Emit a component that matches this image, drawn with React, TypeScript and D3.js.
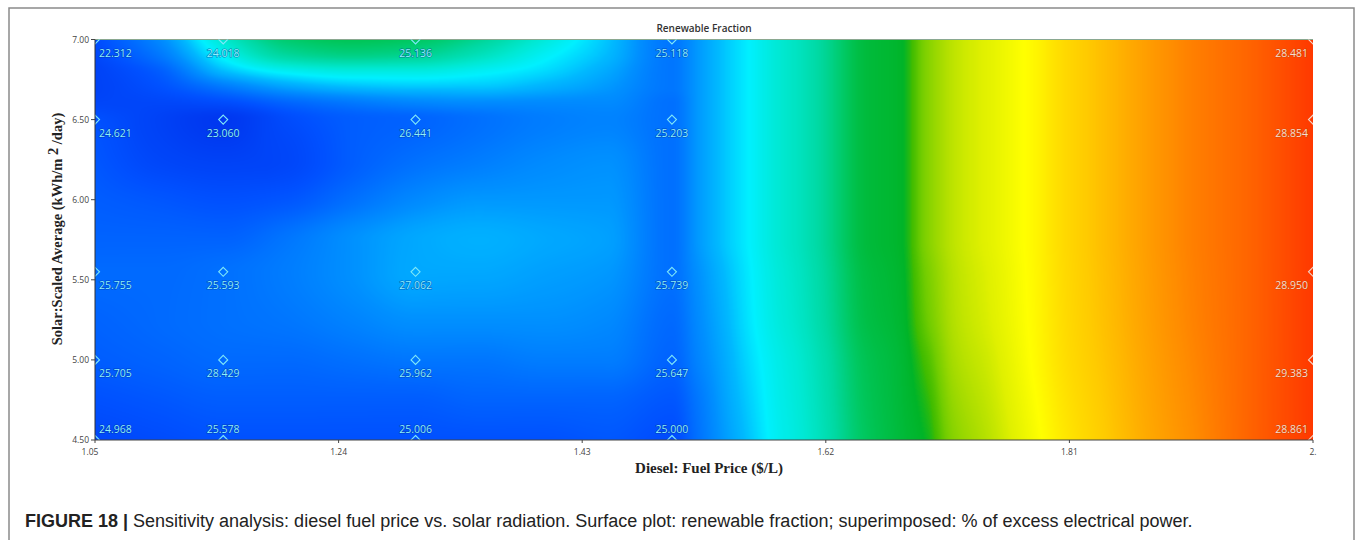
import React, { useMemo } from 'react';
import * as d3 from 'd3';

const W = 1355;
const H = 540;

// Axes
const xDomain = [1.05, 2.0];
const yDomain = [4.5, 7.0];
const xTickValues = [1.05, 1.24, 1.43, 1.62, 1.81, 2.0];
const xTickLabels = ['1.05', '1.24', '1.43', '1.62', '1.81', '2.'];
const yTickValues = [7.0, 6.5, 6.0, 5.5, 5.0, 4.5];

// Sensitivity points (superimposed: % excess electrical power)
const sensDiesel = [1.05, 1.15, 1.3, 1.5, 2.0];
const sensSolar = [7.0, 6.5, 5.55, 5.0, 4.5];
const excess700 = [22.312, 24.018, 25.136, 25.118, 28.481];
const excess650 = [24.621, 23.06, 26.441, 25.203, 28.854];
const excess555 = [25.755, 25.593, 27.062, 25.739, 28.95];
const excess500 = [25.705, 28.429, 25.962, 25.647, 29.383];
const excess450 = [24.968, 25.578, 25.006, 25.0, 28.861];
const excessRows = [excess700, excess650, excess555, excess500, excess450];

// Surface: renewable fraction (estimated, colour-scale units)
const surfDiesel = [1.05, 1.1, 1.15, 1.2, 1.25, 1.3, 1.35, 1.4, 1.45, 1.5, 1.52, 1.54, 1.56, 1.58, 1.6, 1.62, 1.65, 1.68, 1.7, 1.72, 1.75, 1.78, 1.81, 1.85, 1.9, 1.95, 2.0];
const surfSolar = [7.0, 6.9, 6.8, 6.7, 6.6, 6.5, 6.25, 6.0, 5.75, 5.55, 5.25, 5.0, 4.75, 4.5];
const rf700 = [9, 19, 35, 44, 46, 45, 41, 34, 26, 16, 21, 26, 30, 34, 37, 41, 48, 50, 57, 62, 66, 71, 78, 84, 91, 95, 100];
const rf690 = [8, 16, 31, 40, 42, 41, 37, 31, 25, 16, 21, 26, 30, 34, 37, 41, 48, 50, 57, 62, 66, 71, 78, 84, 91, 95, 100];
const rf680 = [7, 12, 25, 31, 33, 33, 31, 28, 23, 16, 21, 26, 30, 34, 37, 41, 48, 50, 57, 62, 66, 71, 78, 84, 91, 95, 100];
const rf670 = [7, 10, 16, 22, 25, 26, 26, 24, 21, 16, 21, 26, 30, 34, 37, 41, 48, 50, 57, 62, 66, 71, 78, 84, 91, 95, 100];
const rf660 = [8, 8, 9, 13, 16, 18, 19, 19, 19, 15, 21, 26, 30, 34, 37, 41, 48, 50, 57, 62, 66, 71, 78, 84, 91, 95, 100];
const rf650 = [10, 7, 5, 9, 12, 13, 15, 17, 18, 15, 21, 26, 30, 34, 37, 41, 48, 50, 57, 62, 66, 71, 78, 84, 91, 95, 100];
const rf625 = [11, 8, 7, 8, 12, 15, 17, 19, 20, 15, 21, 26, 30, 34, 37, 41, 48, 50, 57, 62, 66, 71, 78, 84, 91, 95, 100];
const rf600 = [12, 11, 10, 11, 15, 19, 21, 21, 21, 15, 21, 26, 30, 34, 37, 41, 48, 50, 57, 62, 66, 71, 78, 84, 91, 95, 100];
const rf575 = [13, 13, 13, 16, 20, 23, 24, 23, 22, 15, 21, 26, 30, 34, 37, 41, 48, 50, 57, 62, 66, 71, 78, 84, 91, 95, 100];
const rf555 = [14, 14, 15, 17, 20, 23, 23, 22, 21, 15, 20, 25, 29.5, 33.5, 36.5, 40.5, 47.5, 49.8, 56, 61.5, 65.5, 70.8, 77.8, 83.8, 90.8, 95, 100];
const rf525 = [13, 14, 15, 16, 18, 20, 20, 20, 19, 14, 19, 24, 29, 33, 36, 40, 47, 49.5, 55, 61, 65, 70.5, 77.5, 83.5, 90.5, 95, 100];
const rf500 = [12, 13, 14, 14, 15, 16, 16, 17, 17, 13, 18, 23, 28, 32, 35, 39, 46, 49, 53, 60, 64, 70, 77, 83, 90, 95, 100];
const rf475 = [10, 11, 12, 12, 12, 12, 13, 13, 13, 11, 16, 22, 27, 31.5, 34.5, 38.5, 45.5, 48.8, 51.5, 58.5, 63, 69, 76, 82.5, 89.5, 95, 100];
const rf450 = [8, 9, 10, 10, 10, 10, 10, 10, 11, 9, 15, 21, 26, 31, 34, 38, 45, 48.5, 50.5, 57, 62, 68, 75, 82, 89, 95, 100];
const rfRows = [rf700, rf690, rf680, rf670, rf660, rf650, rf625, rf600, rf575, rf555, rf525, rf500, rf475, rf450];

// Colour map
const colorStops = [0, 5, 10, 15, 20, 25, 30, 35, 40, 45, 50, 52, 55, 60, 65, 70, 75, 80, 85, 90, 95, 100];
const colorValues = ['#0028e0', '#0038f0', '#0050ff', '#0070ff', '#0090ff', '#00b8ff', '#00f0ff', '#00e8d0', '#00d8a0', '#00c860', '#00b428', '#40bc00', '#70cc00', '#a8dc00', '#e0f000', '#ffff00', '#ffe400', '#ffcc00', '#ffaa00', '#ff8c00', '#ff6400', '#ff3800'];

const PL = 95;
const PR = 1313;
const PT = 39.5;
const PB = 440;

function monotone(xs: number[], ys: number[]) {
  const n = xs.length;
  const d: number[] = [];
  const h: number[] = [];
  for (let i = 0; i < n - 1; i++) {
    h[i] = xs[i + 1] - xs[i];
    d[i] = (ys[i + 1] - ys[i]) / h[i];
  }
  const m: number[] = new Array(n);
  m[0] = d[0];
  m[n - 1] = d[n - 2];
  for (let i = 1; i < n - 1; i++) {
    if (d[i - 1] * d[i] <= 0) m[i] = 0;
    else {
      const h0 = h[i - 1], h1 = h[i];
      m[i] = (3 * (h0 + h1)) / ((2 * h1 + h0) / d[i - 1] + (h1 + 2 * h0) / d[i]);
    }
  }
  return (x: number) => {
    let i = 0;
    if (x <= xs[0]) i = 0;
    else if (x >= xs[n - 1]) i = n - 2;
    else {
      while (i < n - 2 && x > xs[i + 1]) i++;
    }
    const t = Math.max(0, Math.min(1, (x - xs[i]) / h[i]));
    const t2 = t * t, t3 = t2 * t;
    return (2 * t3 - 3 * t2 + 1) * ys[i] + (t3 - 2 * t2 + t) * h[i] * m[i] + (-2 * t3 + 3 * t2) * ys[i + 1] + (t3 - t2) * h[i] * m[i + 1];
  };
}

export default function App() {
  const x = d3.scaleLinear().domain(xDomain).range([PL, PR]);
  const y = d3.scaleLinear().domain(yDomain).range([PB, PT]);
  const fmt = d3.format('.3f');

  const surfaceUrl = useMemo(() => {
    const cw = Math.round(PR - PL);
    const ch = Math.round(PB - PT);
    const canvas = document.createElement('canvas');
    canvas.width = cw;
    canvas.height = ch;
    const ctx = canvas.getContext('2d');
    if (!ctx) return '';
    const color = d3.scaleLinear<string>().domain(colorStops).range(colorValues).interpolate(d3.interpolateRgb).clamp(true);
    const lut: [number, number, number][] = [];
    for (let k = 0; k <= 1000; k++) {
      const c = d3.rgb(color(k / 10));
      lut.push([c.r, c.g, c.b]);
    }
    const rowFns = rfRows.map((row) => monotone(surfDiesel, row));
    const rowVals = rowFns.map((f) => {
      const arr = new Float64Array(cw);
      for (let px = 0; px < cw; px++) arr[px] = f(x.invert(PL + px + 0.5));
      return arr;
    });
    const solarAsc = surfSolar.slice().reverse();
    const img = ctx.createImageData(cw, ch);
    const yVals: number[] = [];
    for (let py = 0; py < ch; py++) yVals.push(y.invert(PT + (py + 0.5) * (PB - PT) / ch));
    for (let px = 0; px < cw; px++) {
      const col = rowVals.map((a) => a[px]).reverse();
      const f = monotone(solarAsc, col);
      for (let py = 0; py < ch; py++) {
        let v = f(yVals[py]);
        v = Math.max(0, Math.min(100, v));
        const c = lut[Math.round(v * 10)];
        const idx = (py * cw + px) * 4;
        img.data[idx] = c[0];
        img.data[idx + 1] = c[1];
        img.data[idx + 2] = c[2];
        img.data[idx + 3] = 255;
      }
    }
    ctx.putImageData(img, 0, 0);
    return canvas.toDataURL();
  }, []);

  const lastCol = sensDiesel.length - 1;
  const lastRow = sensSolar.length - 1;

  return (
    <svg width={W} height={H} style={{ position: 'absolute', left: 0, top: 0, background: '#fff' }}>
      <defs>
        <clipPath id="plotClip">
          <rect x={PL} y={PT} width={PR - PL} height={PB - PT} />
        </clipPath>
      </defs>
      {/* outer frame */}
      <rect x={9} y={8} width={1345} height={560} fill="none" stroke="#8a8a8a" strokeWidth={1.5} />

      {/* title */}
      <text x={(PL + PR) / 2} y={32} textAnchor="middle" fontFamily="'Open Sans', sans-serif" fontWeight={600} fontSize={10} fill="#333">Renewable Fraction</text>

      {/* surface */}
      <image href={surfaceUrl} x={PL} y={PT} width={PR - PL} height={PB - PT} preserveAspectRatio="none" />
      <line x1={PL} x2={PR} y1={PT} y2={PT} stroke="#8aa890" strokeWidth={1} />

      {/* markers */}
      <g clipPath="url(#plotClip)">
        {sensSolar.map((sv, ri) =>
          sensDiesel.map((dv, ci) => {
            const cx = x(dv);
            const cy = y(sv);
            const s = 4.5;
            const stroke = ci === lastCol ? '#f0d8cc' : '#7fe8f8';
            return (
              <path key={`m-${ri}-${ci}`} d={`M${cx},${cy - s}L${cx + s},${cy}L${cx},${cy + s}L${cx - s},${cy}Z`} fill="none" stroke={stroke} strokeWidth={1.1} />
            );
          })
        )}
      </g>

      {/* labels */}
      {excessRows.map((row, ri) =>
        row.map((val, ci) => {
          const cx = x(sensDiesel[ci]);
          const cy = y(sensSolar[ri]);
          let anchor: 'start' | 'middle' | 'end' = 'middle';
          let lx = cx;
          if (ci === 0) { anchor = 'start'; lx = cx + 4; }
          if (ci === lastCol) { anchor = 'end'; lx = cx - 5; }
          const ly = ri === lastRow ? cy - 7 : cy + 17.5;
          const isRight = ci === lastCol;
          return (
            <text key={`l-${ri}-${ci}`} x={lx} y={ly} textAnchor={anchor} fontFamily="'Open Sans', sans-serif" fontSize={10.5}
              fill={isRight ? '#f6ddd0' : '#8ef0fc'} stroke={isRight ? 'rgba(170,70,0,0.45)' : 'rgba(0,40,140,0.55)'} strokeWidth={1.2} paintOrder="stroke">
              {fmt(val)}
            </text>
          );
        })
      )}

      {/* axes */}
      <line x1={PL} x2={PL} y1={PT} y2={PB} stroke="#333" strokeWidth={1} />
      <line x1={PL} x2={PR} y1={PB} y2={PB} stroke="#444" strokeWidth={1} />
      {yTickValues.map((t) => (
        <g key={`yt-${t}`}>
          <line x1={PL - 4} x2={PL} y1={y(t)} y2={y(t)} stroke="#444" />
          <text x={PL - 6} y={y(t) + 3} textAnchor="end" fontFamily="'Open Sans', sans-serif" fontSize={8.5} fill="#444">{t.toFixed(2)}</text>
        </g>
      ))}
      {xTickValues.map((t, i) => (
        <g key={`xt-${t}`}>
          <line x1={x(t)} x2={x(t)} y1={PB} y2={PB + 3} stroke="#444" />
          <text x={x(t) - (i === 0 ? 5 : 0)} y={PB + 15} textAnchor="middle" fontFamily="'Open Sans', sans-serif" fontSize={8.5} fill="#444">{xTickLabels[i]}</text>
        </g>
      ))}

      {/* axis titles */}
      <text x={709} y={473} textAnchor="middle" fontFamily="'Liberation Serif', 'Times New Roman', serif" fontWeight="bold" fontSize={15} fill="#222">Diesel: Fuel Price ($/L)</text>
      <text transform="translate(62, 229) rotate(-90)" textAnchor="middle" fontFamily="'Liberation Serif', 'Times New Roman', serif" fontWeight="bold" fontSize={14.5} fill="#222">
        <tspan>Solar:Scaled Average (kWh/m </tspan>
        <tspan dy={-4}>2</tspan>
        <tspan dy={4}> /day)</tspan>
      </text>

      {/* caption */}
      <text x={25} y={527} fontFamily="'Liberation Sans', Arial, sans-serif" fontSize={18} fill="#222">
        <tspan fontWeight="bold">FIGURE 18 |</tspan>
        <tspan> Sensitivity analysis: diesel fuel price vs. solar radiation. Surface plot: renewable fraction; superimposed: % of excess electrical power.</tspan>
      </text>
    </svg>
  );
}
